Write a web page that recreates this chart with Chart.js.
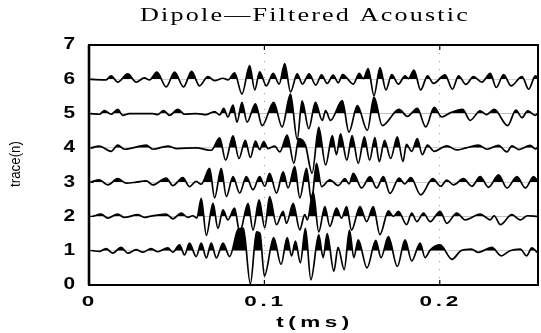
<!DOCTYPE html>
<html>
<head>
<meta charset="utf-8">
<script src="https://cdn.jsdelivr.net/npm/chart.js@4.4.1/dist/chart.umd.min.js"></script>
<style>
  html, body { margin: 0; padding: 0; background: #fff; }
  canvas { display: block; }
</style>
</head>
<body>
<canvas id="wig" width="541" height="333"></canvas>
<script>
// each trace: [time (µs), amplitude (trace units)] at peaks, troughs and zero crossings
const trace1 = [[2.1,0],[5.9,-0.02],[9.7,0.06],[13.5,-0.07],[18.3,0.1],[22.1,-0.07],[26.9,0.03],[30.7,-0.04],[35.4,0.06],[39.2,-0.03],[44.9,0.08],[47.8,-0.04],[51.6,0.17],[54.5,-0.12],[57.3,0.22],[61.1,-0.17],[64,0.22],[66.9,-0.21],[69.7,0.22],[72.6,-0.21],[76.4,0.22],[80.2,-0.17],[85,0.62],[88,0.66],[92,-0.97],[95.5,0.55],[97.5,0.5],[100,-0.74],[105.3,0.38],[109.5,-0.4],[113,0.38],[115.5,-0.15],[117.7,0.28],[120.5,-0.35],[123.4,0.65],[126.5,-0.85],[131,0.46],[133.5,-0.2],[135.8,0.5],[139.6,-0.6],[142,0.1],[145.5,-0.55],[148.5,0.6],[151,-0.2],[153.5,0.32],[158.5,-0.5],[163.5,0.3],[166.5,-0.2],[170.7,0.41],[175.8,-0.46],[180.2,0.32],[184,-0.3],[188.8,0.22],[191.6,-0.2],[194.5,0.02],[200.2,0.17],[207,-0.25],[212,0],[218,0.05],[222,-0.05],[229.7,0.1],[235,-0.15],[240,0],[245.9,0.05],[249.5,-0.15],[252.5,0.08],[255.6,-0.05]];
const trace2 = [[2.1,0],[6.9,0.07],[10.7,-0.05],[16.4,0.07],[20.2,-0.03],[27.8,0.05],[31.6,-0.03],[34.5,0],[44,0.07],[47.8,-0.07],[52.6,0.1],[56.4,-0.03],[59.2,0.02],[61.5,-0.05],[64,0.53],[66.9,-0.55],[70.7,0.38],[73.5,-0.35],[76.4,0.19],[79.2,-0.1],[83,0.24],[85.9,-0.46],[90.7,0.38],[93.5,-0.4],[97,0.48],[100.2,-0.33],[103,0.58],[106.9,-0.24],[110.7,0.15],[112.6,-0.2],[116.4,0.38],[120.2,-0.39],[123,0.05],[124.5,-0.1],[127.8,0.72],[131,-0.45],[134.5,0.29],[137.3,-0.29],[141.1,0.24],[144,-0.05],[146.9,0.29],[149.7,-0.4],[154.5,0.29],[158.3,-0.15],[162.1,0.29],[165.9,-0.53],[170.7,0.16],[173.5,0],[176.4,0.15],[181.1,-0.24],[184,0.1],[186.9,-0.15],[190.7,0.1],[194.5,-0.15],[200.2,0.15],[204,-0.2],[209.7,0.1],[214.5,-0.1],[223,0.07],[228.8,-0.1],[231,0.02],[234.5,-0.24],[241.1,0.05],[245.9,-0.1],[250,0.02],[255.6,0]];
const trace3 = [[1.1,0],[5.9,0.07],[10.7,-0.08],[16.4,0.1],[21.1,-0.03],[26.9,0],[32.6,0.04],[36.4,-0.08],[44,0.12],[47.8,-0.1],[53.5,0.13],[57.3,-0.13],[61.1,0.02],[64,-0.06],[68.8,0.4],[71.6,-0.46],[75.4,0.4],[78.3,-0.42],[82.1,0.16],[85.9,-0.32],[89.7,0.16],[93.5,-0.22],[97.3,0.16],[100.2,-0.12],[103,0.26],[106.9,-0.32],[110.7,0.3],[113.5,-0.17],[117.3,0.45],[120.2,-0.46],[124,0.4],[126.9,-0.55],[129.7,0.55],[132.6,-0.13],[137.3,0.07],[142.1,-0.1],[145.9,0.1],[148.3,-0.05],[150.7,0.26],[155.4,-0.17],[160.2,0.16],[164,-0.17],[167.8,0.16],[171.6,-0.33],[176.8,0.12],[180,-0.05],[183.5,0.13],[189.1,-0.37],[196,0.1],[200.5,-0.12],[204,0.06],[207.8,-0.08],[213.5,0.1],[218.3,-0.12],[223,0.16],[227.8,-0.15],[233.5,0.21],[238.3,-0.17],[244,0.16],[248.8,-0.17],[253.5,0.16],[255.6,0.05]];
const trace4 = [[1.1,0],[5.9,0.05],[12.6,-0.1],[16.4,0.08],[20.2,-0.04],[25,0],[32.6,0.08],[36.4,-0.04],[45,0.05],[49.7,-0.02],[61.1,0],[69.7,-0.07],[74.5,0.29],[77.9,-0.36],[82.1,0.35],[85.5,-0.31],[89.1,0.22],[92,-0.28],[94.9,0.2],[97.3,-0.05],[99.6,0.18],[102.1,-0.02],[105.9,0.05],[108.8,-0.12],[113,0.37],[116.8,-0.45],[119.6,0.27],[123.4,0.08],[127.2,-0.74],[131,0.6],[134.9,-0.5],[138.7,0.36],[141.1,-0.2],[143.4,0.41],[147,-0.36],[150,0.36],[153.5,-0.45],[157,0.32],[160,-0.36],[163,0.3],[165.5,-0.4],[168.5,0.22],[172,-0.31],[175.8,0.32],[179,-0.4],[181,0.1],[184,-0.1],[187.2,0.27],[190,-0.2],[193,0.08],[196.8,-0.1],[204,0.06],[209.7,-0.06],[215,0],[222,0.08],[227,-0.04],[233.5,0.07],[238.3,-0.12],[241.1,0.06],[245,-0.05],[251.6,0.07],[254.5,-0.03],[255.6,0]];
const trace5 = [[1.1,0],[5.9,-0.02],[8.8,0.09],[12.6,-0.02],[16.4,0.12],[19.2,-0.05],[23,0],[36.4,0],[39.2,-0.03],[42.5,0.09],[45.9,-0.05],[50.7,0.12],[54.5,-0.02],[61.1,0],[66.9,-0.03],[71.6,0.06],[74.5,-0.04],[76.8,0.15],[79.2,-0.1],[82.1,0.25],[84.4,-0.25],[87.2,0.33],[90.1,-0.25],[94.9,0.28],[98.7,-0.35],[105.3,0.33],[110.1,-0.39],[114.9,0.57],[118.7,-0.75],[121.5,0.37],[125.3,-0.44],[129.1,0.33],[133,-0.2],[134.9,0.09],[137.7,-0.2],[144.4,0.38],[148.2,-0.54],[153,0.23],[158.7,-0.49],[162.5,0.48],[167.2,-0.35],[176.8,0.12],[181.5,-0.08],[187.2,0.15],[192,-0.39],[196.8,0.18],[201.1,-0.1],[205.9,0.02],[213,0.12],[217.3,-0.2],[223,0.08],[226.5,-0.03],[231,0.12],[238.7,-0.35],[243.4,0.1],[246.9,-0.12],[250.1,0.08],[254.5,-0.05],[255.6,0]];
const trace6 = [[1,0],[9.7,-0.02],[12.6,0.1],[16.4,-0.08],[22.1,0.16],[26.9,-0.08],[31.6,0.04],[34.5,-0.02],[38.7,0.21],[44,-0.22],[48.8,0.21],[53.9,-0.22],[58.5,0.23],[63,-0.19],[67.8,0.08],[71.6,-0.04],[76.4,0.03],[79.2,-0.02],[83,0.19],[87.2,-0.43],[91.6,0.4],[94.5,-0.31],[97.3,0.22],[101.1,-0.19],[105,0.17],[108.4,-0.14],[111.6,0.46],[114.9,-0.37],[118.7,0.16],[121.7,-0.14],[125.5,0.16],[129.3,-0.17],[132.6,0.13],[135.8,-0.12],[139.2,0.12],[142.1,-0.1],[144.6,0.14],[150.7,-0.14],[154.1,0.17],[156.4,0.02],[159.2,0.31],[162.5,-0.48],[165.9,0.34],[169.3,-0.31],[172.6,0.14],[176.4,-0.14],[180.2,0.1],[182.1,0.02],[185.3,0.27],[189.1,-0.31],[193,0.1],[196.4,-0.12],[203,0.13],[207.2,-0.29],[210.7,0.1],[214.9,-0.15],[219.2,0.08],[224,-0.08],[228.8,0.17],[232.2,-0.24],[236.4,0.14],[240.6,-0.19],[246.9,0.08],[250.7,-0.29],[254.5,0.1],[255.6,0.05]];

const traces = [trace1, trace2, trace3, trace4, trace5, trace6];
const traceIndex = [1, 2, 3, 4, 5, 6];

const xTicks = [0, 0.1, 0.2];
const xTickLabels = ["0", "0.1", "0.2"];
const yTicks = [0, 1, 2, 3, 4, 5, 6, 7];

const titleText = "Dipole\u2014Filtered Acoustic";
const xTitleText = "t(ms)";
const yTitleText = "trace(n)";

// wiggle trace: line plus black fill on the positive side of its own baseline
const datasets = traces.map((tr, i) => ({
  data: tr.map(([us, a]) => ({ x: us / 1000, y: traceIndex[i] + a })),
  borderColor: "#000",
  borderWidth: 1.7,
  pointRadius: 0,
  cubicInterpolationMode: "monotone",
  fill: { target: { value: traceIndex[i] }, above: "#000", below: "rgba(0,0,0,0)" }
}));

// text stretched horizontally, like the plotter lettering
function wideText(ctx, str, x, y, opts) {
  ctx.save();
  ctx.font = opts.font;
  ctx.letterSpacing = (opts.spacing || 0) + "px";
  ctx.fillStyle = "#000";
  ctx.translate(x, y);
  if (opts.rotate) ctx.rotate(opts.rotate);
  ctx.scale(opts.sx || 1, opts.sy || 1);
  ctx.textAlign = opts.align || "center";
  ctx.textBaseline = "middle";
  ctx.fillText(str, 0, 0);
  ctx.restore();
}

const frame = {
  id: "frame",
  afterDraw(chart) {
    const { ctx, chartArea: a, scales: { x, y } } = chart;
    ctx.save();
    ctx.strokeStyle = "#000";
    ctx.lineWidth = 2;
    ctx.strokeRect(a.left, a.top, a.right - a.left, a.bottom - a.top);
    ctx.beginPath();
    ctx.moveTo(a.left, a.top); ctx.lineTo(a.left, a.bottom);
    ctx.lineWidth = 2.6;
    ctx.stroke();

    // inward tick marks
    ctx.lineWidth = 1.2;
    ctx.beginPath();
    yTicks.forEach(v => {
      const py = y.getPixelForValue(v);
      ctx.moveTo(a.left, py); ctx.lineTo(a.left + 5, py);
    });
    xTicks.slice(1).forEach(v => {
      const px = x.getPixelForValue(v);
      ctx.moveTo(px, a.top); ctx.lineTo(px, a.top + 5);
      ctx.moveTo(px, a.bottom); ctx.lineTo(px, a.bottom - 5);
    });
    ctx.stroke();
    ctx.restore();

    const tickFont = "bold 16px 'Liberation Sans', Arial, sans-serif";
    yTicks.forEach(v => {
      wideText(ctx, String(v), a.left - 14, y.getPixelForValue(v), { font: tickFont, sx: 1.3, align: "right" });
    });
    xTicks.forEach((v, i) => {
      wideText(ctx, xTickLabels[i], x.getPixelForValue(v) + 1, a.bottom + 17, { font: "bold 15px 'Liberation Sans', Arial, sans-serif", sx: 1.5, spacing: 2.5 });
    });

    wideText(ctx, xTitleText, 315, 323, { font: "bold 15px 'Liberation Sans', Arial, sans-serif", sx: 1.5, spacing: 3 });
    wideText(ctx, yTitleText, 16, 164, { font: "14px 'Liberation Sans', Arial, sans-serif", rotate: -Math.PI / 2, sx: 0.95 });
    wideText(ctx, titleText, 305, 16, { font: "18px 'Liberation Serif', 'Times New Roman', serif", sx: 1.45, spacing: 1.5 });
  }
};

new Chart(document.getElementById("wig"), {
  type: "line",
  data: { datasets },
  options: {
    responsive: false,
    devicePixelRatio: 1,
    animation: false,
    layout: { padding: { top: 45, right: 3, left: 0, bottom: 0 } },
    plugins: { legend: { display: false }, tooltip: { enabled: false } },
    scales: {
      x: {
        type: "linear", min: 0, max: 0.256,
        afterBuildTicks: s => { s.ticks = xTicks.map(v => ({ value: v })); },
        afterFit: s => { s.height = 48; },
        ticks: { display: false },
        grid: { color: "#999", lineWidth: 1, drawTicks: false },
        border: { display: false, dash: [1, 7] }
      },
      y: {
        type: "linear", min: 0, max: 7,
        afterBuildTicks: s => { s.ticks = yTicks.map(v => ({ value: v })); },
        afterFit: s => { s.width = 89; },
        ticks: { display: false },
        grid: { display: false },
        border: { display: false }
      }
    }
  },
  plugins: [frame]
});
</script>
</body>
</html>
